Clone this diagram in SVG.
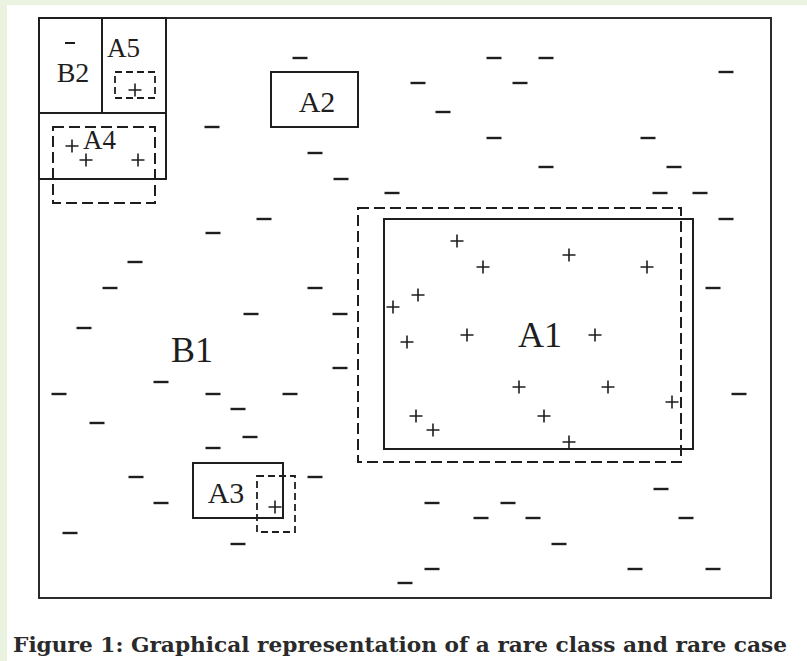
<svg xmlns="http://www.w3.org/2000/svg" xmlns:xlink="http://www.w3.org/1999/xlink" width="807" height="661" viewBox="0 0 807 661">
  <defs>
    <style>
      .frame { fill: none; stroke: #2b2b2b; stroke-width: 2; }
      .box { fill: none; stroke: #1e1e1e; stroke-width: 2; }
      .dash { fill: none; stroke: #1e1e1e; stroke-width: 2; stroke-dasharray: 11 5; }
      .dash-sm { fill: none; stroke: #1e1e1e; stroke-width: 1.8; stroke-dasharray: 7 4; }
      .lbl { font-family: "Liberation Serif", "Times New Roman", serif; fill: #1e1e1e; }
      .pt { stroke: #1e1e1e; fill: none; }
      .caption { font-family: "DejaVu Serif", "Liberation Serif", serif; font-weight: bold; font-size: 20px; fill: #2a2a2a; }
    </style>
    <!-- negative example: short horizontal bar -->
    <path id="neg" d="M-7.5 0h15" stroke-width="2.4"/>
    <!-- positive example: small cross -->
    <path id="pos" d="M-6.5 0h13M0 -6.5v13" stroke-width="1.6"/>
  </defs>

  <!-- page background -->
  <rect x="0" y="0" width="807" height="661" fill="#e9f3df"/>
  <rect x="7" y="5" width="800" height="656" fill="#ffffff"/>

  <!-- outer instance space -->
  <rect class="frame" x="39" y="18" width="732" height="580"/>

  <!-- B1: majority class region (the whole space) -->
  <g id="B1">
    <text class="lbl" x="192" y="362" font-size="36" text-anchor="middle">B1</text>
  </g>

  <!-- B2: small negative region -->
  <g id="B2">
    <rect class="box" x="39" y="18" width="63" height="95"/>
    <text class="lbl" x="73" y="82" font-size="28" text-anchor="middle">B2</text>
  </g>

  <!-- A5 -->
  <g id="A5">
    <rect class="box" x="102" y="18" width="64" height="95"/>
    <text class="lbl" x="107" y="57" font-size="27">A5</text>
    <rect class="dash-sm" x="115" y="72" width="40" height="26"/>
  </g>

  <!-- A4 -->
  <g id="A4">
    <rect class="box" x="39" y="113" width="127" height="66"/>
    <rect class="dash" x="53" y="127" width="102" height="76"/>
    <text class="lbl" x="83" y="149" font-size="27">A4</text>
  </g>

  <!-- A2 -->
  <g id="A2">
    <rect class="box" x="271" y="72" width="87" height="55"/>
    <text class="lbl" x="317" y="112" font-size="30" text-anchor="middle">A2</text>
  </g>

  <!-- A1: large positive region with its learned boundary -->
  <g id="A1">
    <rect class="box" x="384" y="219" width="309" height="230"/>
    <rect class="dash" x="358" y="208" width="323" height="254"/>
    <text class="lbl" x="540" y="347" font-size="36" text-anchor="middle">A1</text>
  </g>

  <!-- A3 -->
  <g id="A3">
    <rect class="box" x="193" y="463" width="90" height="55"/>
    <rect class="dash-sm" x="257" y="476" width="38" height="56"/>
    <text class="lbl" x="226" y="503" font-size="30" text-anchor="middle">A3</text>
  </g>

  <!-- positive examples -->
  <g id="positives" class="pt">
    <use xlink:href="#pos" x="135" y="90"/>
    <use xlink:href="#pos" x="72" y="146"/>
    <use xlink:href="#pos" x="86" y="160"/>
    <use xlink:href="#pos" x="138" y="160"/>
    <use xlink:href="#pos" x="275" y="507"/>
    <use xlink:href="#pos" x="457" y="241"/>
    <use xlink:href="#pos" x="569" y="255"/>
    <use xlink:href="#pos" x="483" y="267"/>
    <use xlink:href="#pos" x="647" y="267"/>
    <use xlink:href="#pos" x="418" y="295"/>
    <use xlink:href="#pos" x="393" y="307"/>
    <use xlink:href="#pos" x="467" y="335"/>
    <use xlink:href="#pos" x="595" y="335"/>
    <use xlink:href="#pos" x="407" y="342"/>
    <use xlink:href="#pos" x="519" y="387"/>
    <use xlink:href="#pos" x="608" y="387"/>
    <use xlink:href="#pos" x="672" y="402"/>
    <use xlink:href="#pos" x="416" y="416"/>
    <use xlink:href="#pos" x="544" y="416"/>
    <use xlink:href="#pos" x="433" y="430"/>
    <use xlink:href="#pos" x="569" y="442"/>
  </g>

  <!-- negative examples -->
  <g id="negatives" class="pt">
    <path d="M65 43h10" stroke-width="2"/>
    <use xlink:href="#neg" x="300" y="58"/>
    <use xlink:href="#neg" x="494" y="58"/>
    <use xlink:href="#neg" x="546" y="58"/>
    <use xlink:href="#neg" x="418" y="83"/>
    <use xlink:href="#neg" x="520" y="83"/>
    <use xlink:href="#neg" x="726" y="72"/>
    <use xlink:href="#neg" x="443" y="112"/>
    <use xlink:href="#neg" x="212" y="127"/>
    <use xlink:href="#neg" x="494" y="138"/>
    <use xlink:href="#neg" x="648" y="138"/>
    <use xlink:href="#neg" x="315" y="153"/>
    <use xlink:href="#neg" x="546" y="167"/>
    <use xlink:href="#neg" x="674" y="167"/>
    <use xlink:href="#neg" x="341" y="179"/>
    <use xlink:href="#neg" x="392" y="193"/>
    <use xlink:href="#neg" x="660" y="193"/>
    <use xlink:href="#neg" x="700" y="193"/>
    <use xlink:href="#neg" x="264" y="219"/>
    <use xlink:href="#neg" x="726" y="219"/>
    <use xlink:href="#neg" x="213" y="233"/>
    <use xlink:href="#neg" x="135" y="262"/>
    <use xlink:href="#neg" x="110" y="288"/>
    <use xlink:href="#neg" x="315" y="288"/>
    <use xlink:href="#neg" x="713" y="288"/>
    <use xlink:href="#neg" x="251" y="314"/>
    <use xlink:href="#neg" x="340" y="314"/>
    <use xlink:href="#neg" x="84" y="328"/>
    <use xlink:href="#neg" x="340" y="368"/>
    <use xlink:href="#neg" x="161" y="382"/>
    <use xlink:href="#neg" x="59" y="394"/>
    <use xlink:href="#neg" x="213" y="394"/>
    <use xlink:href="#neg" x="290" y="394"/>
    <use xlink:href="#neg" x="739" y="394"/>
    <use xlink:href="#neg" x="238" y="409"/>
    <use xlink:href="#neg" x="97" y="423"/>
    <use xlink:href="#neg" x="250" y="437"/>
    <use xlink:href="#neg" x="213" y="448"/>
    <use xlink:href="#neg" x="136" y="477"/>
    <use xlink:href="#neg" x="315" y="477"/>
    <use xlink:href="#neg" x="661" y="489"/>
    <use xlink:href="#neg" x="161" y="503"/>
    <use xlink:href="#neg" x="432" y="503"/>
    <use xlink:href="#neg" x="508" y="503"/>
    <use xlink:href="#neg" x="481" y="518"/>
    <use xlink:href="#neg" x="533" y="518"/>
    <use xlink:href="#neg" x="686" y="518"/>
    <use xlink:href="#neg" x="70" y="533"/>
    <use xlink:href="#neg" x="238" y="544"/>
    <use xlink:href="#neg" x="559" y="544"/>
    <use xlink:href="#neg" x="432" y="569"/>
    <use xlink:href="#neg" x="635" y="569"/>
    <use xlink:href="#neg" x="713" y="569"/>
    <use xlink:href="#neg" x="405" y="583"/>
  </g>

  <!-- no connectors in this figure -->
  <g id="connectors"/>

  <text class="caption" x="13" y="652" textLength="774" lengthAdjust="spacingAndGlyphs">Figure 1: Graphical representation of a rare class and rare case</text>
</svg>
